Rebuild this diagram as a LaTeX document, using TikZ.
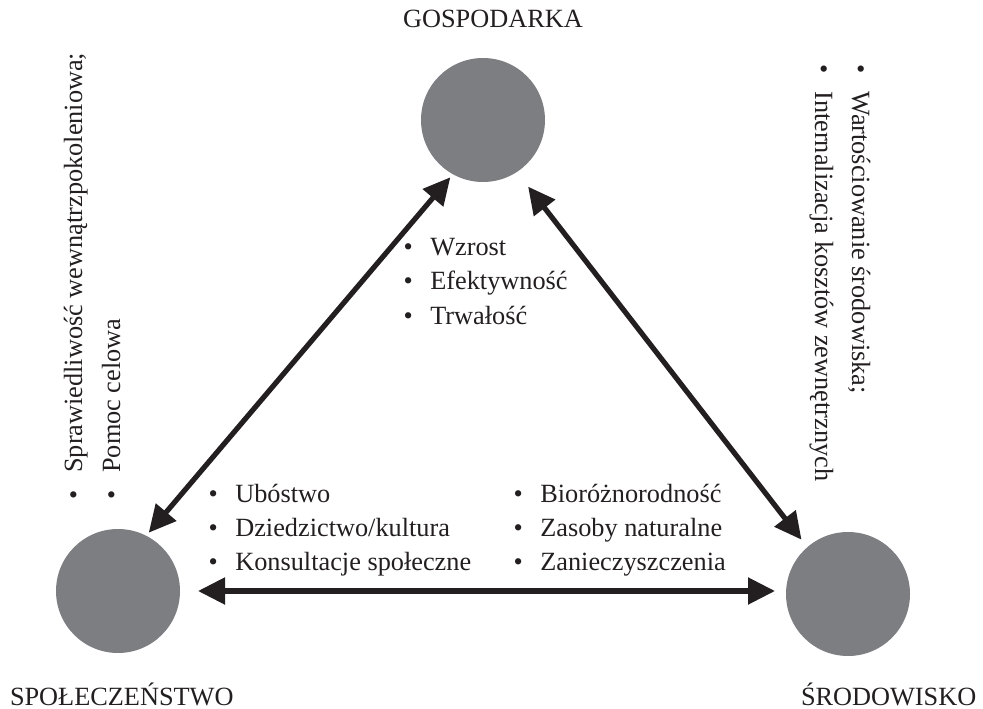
\documentclass[tikz,border=0pt]{standalone}
\usepackage{fontspec}
\setmainfont{Liberation Serif}
\usetikzlibrary{arrows.meta}
\definecolor{ink}{HTML}{231F20}
\definecolor{ball}{HTML}{7D7E82}
\begin{document}
\begin{tikzpicture}[x=1pt,y=-1pt,
  ballnode/.style={circle,fill=ball,draw=none,minimum size=124pt,inner sep=0pt,outer sep=0pt},
  txt/.style={font=\fontsize{26.3}{34}\selectfont,text=ink,inner sep=0pt,outer sep=0pt},
  item/.style={txt,anchor=base west},
  link/.style={draw=ink,line width=5.2pt,{Triangle[length=27pt,width=26pt]}-{Triangle[length=27pt,width=26pt]}}]
\useasboundingbox (0,0) rectangle (983,709);
\newcommand{\bitem}[1]{\textbullet\hspace{0.67em}#1}
% circles
\node[ballnode] (gosp) at (483,120) {};
\node[ballnode] (spol) at (118,591) {};
\node[ballnode] (srod) at (848,594) {};
% titles
\node[txt,anchor=base] (tgosp) at (493,28) {GOSPODARKA};
\node[txt,anchor=base west] (tspol) at (10,705) {SPOŁECZEŃSTWO};
\node[txt,anchor=base west] (tsrod) at (801,705) {ŚRODOWISKO};
% connectors
\draw[link,shorten <=4pt,shorten >=4pt] (gosp.241.9) -- (spol.63);
\draw[link,shorten <=18.5pt,shorten >=9.5pt] (gosp.303.9) -- (srod.131);
\draw[link,shorten <=18pt,shorten >=11pt] (spol.east) -- (spol.east -| srod.west);
% economy list
\node[item] (e1) at (403.5,255) {\bitem{Wzrost}};
\node[item] (e2) at (403.5,289.5) {\bitem{Efektywność}};
\node[item] (e3) at (403.5,324) {\bitem{Trwałość}};
% society list
\node[item] (s1) at (208.5,502) {\bitem{Ubóstwo}};
\node[item] (s2) at (208.5,536) {\bitem{Dziedzictwo/kultura}};
\node[item] (s3) at (208.5,570) {\bitem{Konsultacje społeczne}};
% environment list
\node[item] (b1) at (513.5,502) {\bitem{Bioróżnorodność}};
\node[item] (b2) at (513.5,536) {\bitem{Zasoby naturalne}};
\node[item] (b3) at (513.5,570) {\bitem{Zanieczyszczenia}};
% rotated left
\node[item,rotate=90] (r1) at (82,499.5) {\bitem{Sprawiedliwość wewnątrzpokoleniowa;}};
\node[item,rotate=90] (r2) at (120,499.5) {\bitem{Pomoc celowa}};
% rotated right
\node[item,rotate=-90] (q1) at (852,64.5) {\bitem{Wartościowanie środowiska;}};
\node[item,rotate=-90] (q2) at (815,64.5) {\bitem{Internalizacja kosztów zewnętrznych}};
\end{tikzpicture}
\end{document}
